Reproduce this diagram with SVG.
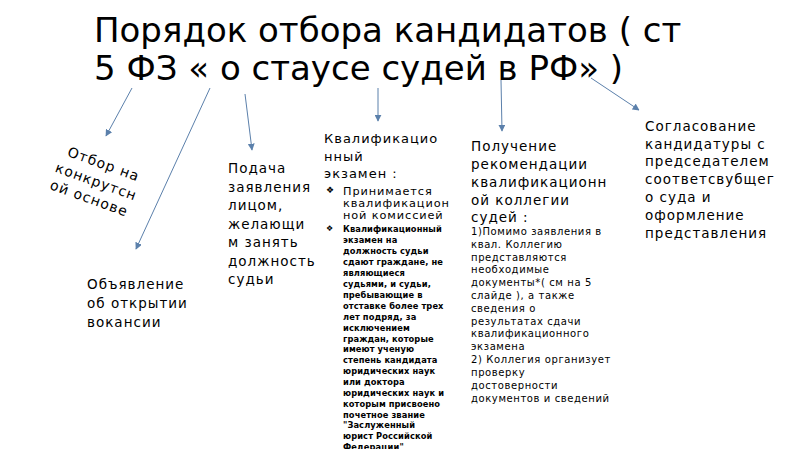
<svg xmlns="http://www.w3.org/2000/svg" width="800" height="449" viewBox="0 0 800 449">
<defs>
<marker id="ah" viewBox="0 0 10 10" refX="9" refY="5" markerWidth="7" markerHeight="7" markerUnits="userSpaceOnUse" orient="auto">
<path d="M0,0 L10,5 L0,10 z" fill="#5b80ab"/>
</marker>
<style>
.t{font-family:"DejaVu Sans","Liberation Sans",sans-serif;fill:#000}
.title{font-size:34px}
.m{font-size:13.5px;letter-spacing:1px}
.s{font-size:10px;letter-spacing:0.6px}
.xs{font-size:8.3px;font-weight:bold;letter-spacing:0.1px}
.b{font-size:11.3px;letter-spacing:0.9px}
.c{stroke:#5b80ab;stroke-width:1;fill:none;marker-end:url(#ah)}
</style>
</defs>
<rect width="800" height="449" fill="#fff"/>
<g id="title">
<text class="t title" x="94" y="42">Порядок отбора кандидатов ( ст</text>
<text class="t title" x="94" y="80">5 ФЗ « о стаусе судей в РФ» )</text>
</g>
<g id="connectors">
<line class="c" x1="132" y1="88" x2="106" y2="136"/>
<line class="c" x1="210" y1="88" x2="136" y2="249"/>
<line class="c" x1="245" y1="94" x2="252" y2="150"/>
<line class="c" x1="378" y1="88" x2="378" y2="121"/>
<line class="c" x1="501" y1="80" x2="502" y2="131"/>
<line class="c" x1="591" y1="78" x2="639" y2="110"/>
</g>
<g id="node-otbor" transform="rotate(20 95 182)">
<text class="t" x="97" y="167" text-anchor="middle" style="font-size:14px;letter-spacing:1px">Отбор на</text>
<text class="t" x="96" y="186" text-anchor="middle" style="font-size:14px;letter-spacing:1px">конкрутсн</text>
<text class="t" x="95" y="204" text-anchor="middle" style="font-size:14px;letter-spacing:1px">ой основе</text>
</g>
<g id="node-obyavlenie">
<text class="t m" x="87" y="289">Объявление</text>
<text class="t m" x="87" y="308">об открытии</text>
<text class="t m" x="87" y="327">вокансии</text>
</g>
<g id="node-podacha">
<text class="t m" x="228" y="173">Подача</text>
<text class="t m" x="228" y="191.5">заявления</text>
<text class="t m" x="228" y="210">лицом,</text>
<text class="t m" x="228" y="228.5">желающи</text>
<text class="t m" x="228" y="247">м занять</text>
<text class="t m" x="228" y="265.5">должность</text>
<text class="t m" x="228" y="284">судьи</text>
</g>
<g id="node-ekzamen">
<text class="t m" x="324" y="143" style="font-size:13px">Квалификацио</text>
<text class="t m" x="324" y="161" style="font-size:13px">нный</text>
<text class="t m" x="324" y="178" style="font-size:13px">экзамен :</text>
<text class="t" x="326" y="193" style="font-size:9px">❖</text>
<text class="t b" x="343" y="195">Принимается</text>
<text class="t b" x="343" y="207">квалификацион</text>
<text class="t b" x="343" y="219">ной  комиссией</text>
<text class="t" x="326" y="231" style="font-size:8px">❖</text>
<text class="t xs" x="343" y="232">Квалификационный</text>
<text class="t xs" x="343" y="243">экзамен на</text>
<text class="t xs" x="343" y="254">должность судьи</text>
<text class="t xs" x="343" y="265">сдают граждане, не</text>
<text class="t xs" x="343" y="276">являющиеся</text>
<text class="t xs" x="343" y="287">судьями, и судьи,</text>
<text class="t xs" x="343" y="298">пребывающие в</text>
<text class="t xs" x="343" y="309">отставке более трех</text>
<text class="t xs" x="343" y="319.5">лет подряд, за</text>
<text class="t xs" x="343" y="330.5">исключением</text>
<text class="t xs" x="343" y="341.5">граждан, которые</text>
<text class="t xs" x="343" y="352">имеют ученую</text>
<text class="t xs" x="343" y="363">степень кандидата</text>
<text class="t xs" x="343" y="374">юридических наук</text>
<text class="t xs" x="343" y="385">или доктора</text>
<text class="t xs" x="343" y="395.5">юридических наук и</text>
<text class="t xs" x="343" y="406.5">которым присвоено</text>
<text class="t xs" x="343" y="417.5">почетное звание</text>
<text class="t xs" x="343" y="428">"Заслуженный</text>
<text class="t xs" x="343" y="439">юрист Российской</text>
<text class="t xs" x="343" y="449.5">Федерации"</text>
</g>
<g id="node-rekomendacii">
<text class="t m" x="471" y="151">Получение</text>
<text class="t m" x="471" y="169">рекомендации</text>
<text class="t m" x="471" y="187">квалификационн</text>
<text class="t m" x="471" y="205">ой коллегии</text>
<text class="t m" x="471" y="222">судей :</text>
<text class="t s" x="471" y="235">1)Помимо заявления в</text>
<text class="t s" x="471" y="248">квал. Коллегию</text>
<text class="t s" x="471" y="261">представляются</text>
<text class="t s" x="471" y="273">необходимые</text>
<text class="t s" x="471" y="286">документы*( см на 5</text>
<text class="t s" x="471" y="299">слайде ), а также</text>
<text class="t s" x="471" y="312">сведения о</text>
<text class="t s" x="471" y="325">результатах сдачи</text>
<text class="t s" x="471" y="337">квалификационного</text>
<text class="t s" x="471" y="350">экзамена</text>
<text class="t s" x="471" y="363">2) Коллегия организует</text>
<text class="t s" x="471" y="376">проверку</text>
<text class="t s" x="471" y="389">достоверности</text>
<text class="t s" x="471" y="402">документов и сведений</text>
</g>
<g id="node-soglasovanie">
<text class="t m" x="645" y="131">Согласование</text>
<text class="t m" x="645" y="149">кандидатуры с</text>
<text class="t m" x="645" y="166">председателем</text>
<text class="t m" x="645" y="184">соответсвубщег</text>
<text class="t m" x="645" y="202">о суда и</text>
<text class="t m" x="645" y="220">оформление</text>
<text class="t m" x="645" y="238">представления</text>
</g>
</svg>
